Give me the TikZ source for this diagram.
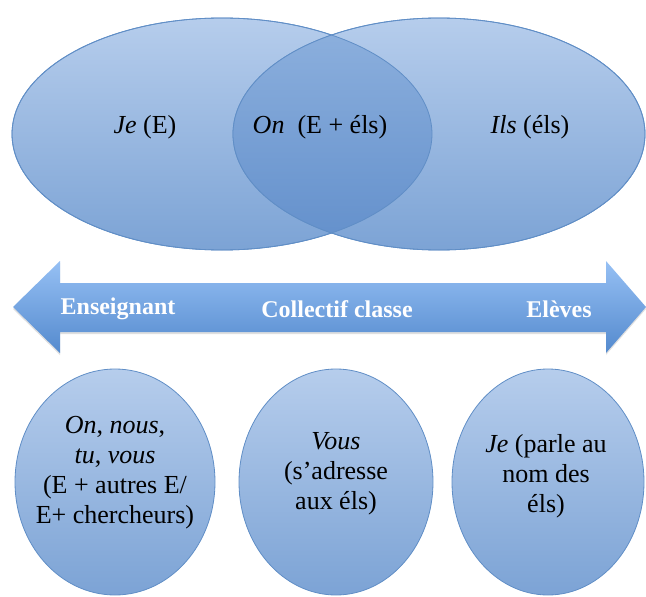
\documentclass[tikz,border=0pt]{standalone}
\usepackage{fontspec}
\setmainfont{Liberation Serif}
\usetikzlibrary{shadows}
\definecolor{bluetop}{RGB}{182,205,236}
\definecolor{bluebot}{RGB}{124,163,213}
\definecolor{lenstop}{RGB}{142,177,222}
\definecolor{lensbot}{RGB}{98,143,203}
\definecolor{blueline}{RGB}{96,142,198}
\definecolor{arrowtop}{RGB}{150,192,244}
\definecolor{arrowmid}{RGB}{122,170,234}
\definecolor{arrowbot}{RGB}{84,138,206}
\def\bigrx{210}
\def\bigry{116}
\def\smallry{113}

\begin{document}
\begin{tikzpicture}[x=1pt,y=-1pt,
  bubble/.style={draw=blueline, line width=0.8pt, top color=bluetop, bottom color=bluebot},
  txt/.style={font=\fontsize{26}{30}\selectfont, align=center, inner sep=0pt},
  arrowtxt/.style={font=\fontsize{24}{28}\selectfont\bfseries, text=white, inner sep=0pt}]
  \useasboundingbox (0,0) rectangle (646,597);
  % the two big ellipses
  \shade[bubble] (222,134) ellipse [x radius=\bigrx, y radius=\bigry];
  \shade[bubble] (439,134) ellipse [x radius=206, y radius=\bigry];
  % darker lens where they overlap
  \begin{scope}
    \clip (222,134) ellipse [x radius=\bigrx, y radius=\bigry];
    \shade[top color=lenstop, bottom color=lensbot] (439,134) ellipse [x radius=206, y radius=\bigry];
  \end{scope}
  \draw[blueline, line width=0.8pt] (222,134) ellipse [x radius=\bigrx, y radius=\bigry];
  \draw[blueline, line width=0.8pt] (439,134) ellipse [x radius=206, y radius=\bigry];
  \node[txt] (je) at (145,127) {\textit{Je} (E)};
  \node[txt] (on) at (320,127) {\textit{On}\ \ (E + éls)};
  \node[txt] (ils) at (530,127) {\textit{Ils} (éls)};
  % double arrow
  \shade[top color=arrowtop, middle color=arrowmid, bottom color=arrowbot,
    drop shadow={opacity=0.25, shadow xshift=0pt, shadow yshift=-2pt}]
    (13,307) -- (60,261) -- (60,283) -- (606,283) -- (606,261) -- (646,307)
    -- (606,353) -- (606,332) -- (60,332) -- (60,353) -- cycle;
  \node[arrowtxt] (enseignant) at (118,309) {Enseignant};
  \node[arrowtxt] (collectif) at (337,309) {Collectif classe};
  \node[arrowtxt] (eleves) at (559,309) {Elèves};
  % the three small ellipses
  \foreach \cx/\rx in {115/100, 336/97, 548/96}
    \shade[bubble] (\cx,482) ellipse [x radius=\rx, y radius=\smallry];
  \node[txt] (nous) at (115,473) {\textit{On}, \textit{nous},\\\textit{tu}, \textit{vous}\\(E + autres E/\\E+ chercheurs)};
  \node[txt] (vous) at (336,474) {\textit{Vous}\\(s’adresse\\aux éls)};
  \node[txt] (parle) at (546,476) {\textit{Je} (parle au\\nom des\\éls)};
\end{tikzpicture}
\end{document}
